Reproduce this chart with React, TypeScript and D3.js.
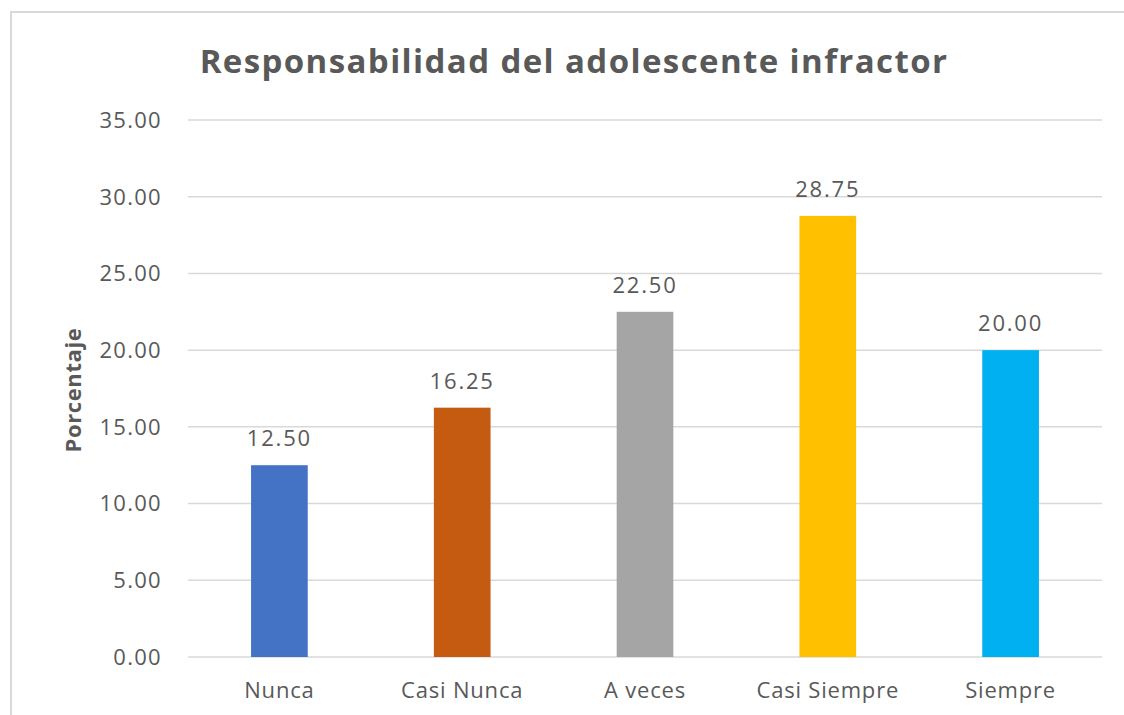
import * as React from "react";
import { scaleBand, scaleLinear } from "d3";

const categories = ["Nunca", "Casi Nunca", "A veces", "Casi Siempre", "Siempre"];
const values = [12.5, 16.25, 22.5, 28.75, 20.0];
const colors = ["#4472C4", "#C55A11", "#A5A5A5", "#FFC000", "#00B0F0"];
const yTicks = [0, 5, 10, 15, 20, 25, 30, 35];

const W = 1124;
const H = 715;
const plot = { left: 188, right: 1102, top: 120, bottom: 657 };
const font = "'Open Sans', 'Segoe UI', sans-serif";
const textColor = "#595959";

export default function App() {
  const x = scaleBand<string>().domain(categories).range([plot.left, plot.right]).padding(0);
  const y = scaleLinear().domain([0, 35]).range([plot.bottom, plot.top]);
  const barW = x.bandwidth() * 0.31;

  return (
    <svg
      width={W}
      height={H}
      style={{ position: "fixed", left: 0, top: 0, background: "#fff" }}
      fontFamily={font}
    >
      {/* chart frame */}
      <rect x={11} y={12} width={W + 20} height={H + 20} fill="#fff" stroke="#D9D9D9" strokeWidth={2} />

      <text x={574} y={73} textAnchor="middle" fontSize={33} fontWeight="bold" fill={textColor} letterSpacing={1.4}>
        Responsabilidad del adolescente infractor
      </text>

      {/* gridlines + y ticks */}
      {yTicks.map((t) => (
        <g key={t}>
          <line x1={plot.left} x2={plot.right} y1={y(t)} y2={y(t)} stroke="#D9D9D9" strokeWidth={1.5} />
          <text x={162} y={y(t)} dy="0.36em" textAnchor="end" fontSize={22} fill={textColor} letterSpacing={1.3}>
            {t.toFixed(2)}
          </text>
        </g>
      ))}

      {/* bars */}
      {categories.map((c, i) => {
        const cx = x(c)! + x.bandwidth() / 2;
        return (
          <g key={c}>
            <rect
              x={cx - barW / 2}
              y={y(values[i])}
              width={barW}
              height={y(0) - y(values[i])}
              fill={colors[i]}
            />
            <text x={cx} y={y(values[i]) - 19} textAnchor="middle" fontSize={22} fill={textColor} letterSpacing={1.8}>
              {values[i].toFixed(2)}
            </text>
            <text x={cx} y={698} textAnchor="middle" fontSize={22} fill={textColor} letterSpacing={0.8}>
              {c}
            </text>
          </g>
        );
      })}

      <text
        transform={`translate(81, 390) rotate(-90)`}
        textAnchor="middle"
        fontSize={22}
        fontWeight="bold"
        fill={textColor}
        letterSpacing={0.6}
      >
        Porcentaje
      </text>
    </svg>
  );
}
